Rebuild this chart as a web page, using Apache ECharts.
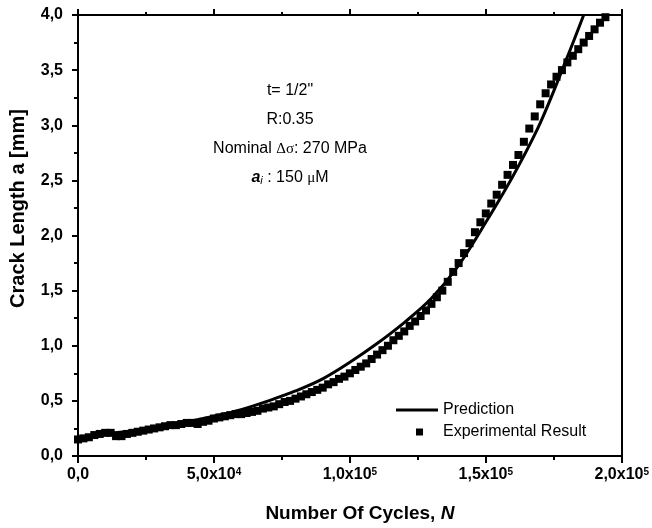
<!DOCTYPE html>
<html>
<head>
<meta charset="utf-8">
<script src="https://cdn.jsdelivr.net/npm/echarts@6/dist/echarts.min.js"></script>
<style>
  html, body { margin: 0; padding: 0; background: #fff; }
  #chart { width: 652px; height: 528px; }
</style>
</head>
<body>
<div id="chart"></div>
<script>
// cycles are in thousands (k), crack length in mm
var expCyclesK = [
  0, 2, 4, 6, 8, 10, 12, 14, 16, 18,
  20, 22, 24, 26, 28, 30, 32, 34, 36, 38,
  40, 42, 44, 46, 48, 50, 52, 54, 56, 58,
  60, 62, 64, 66, 68, 70, 72, 74, 76, 78,
  80, 82, 84, 86, 88, 90, 92, 94, 96, 98,
  100, 102, 104, 106, 108, 110, 112, 114, 116, 118,
  120, 122, 124, 126, 128, 130, 132, 134, 136, 138,
  140, 142, 144, 146, 148, 150, 152, 154, 156, 158,
  160, 162, 164, 166, 168, 170, 172, 174, 176, 178,
  180, 182, 184, 186, 188, 190, 192, 194
];
var expLength = [
  0.15, 0.16, 0.17, 0.19, 0.20, 0.21, 0.21, 0.18, 0.18, 0.20,
  0.21, 0.22, 0.23, 0.24, 0.25, 0.26, 0.27, 0.28, 0.28, 0.29,
  0.30, 0.30, 0.29, 0.31, 0.32, 0.34, 0.35, 0.36, 0.37, 0.38,
  0.38, 0.39, 0.40, 0.41, 0.43, 0.44, 0.45, 0.47, 0.49, 0.50,
  0.52, 0.54, 0.56, 0.58, 0.60, 0.62, 0.65, 0.67, 0.70, 0.72,
  0.75, 0.78, 0.81, 0.84, 0.88, 0.92, 0.96, 1.00, 1.05, 1.09,
  1.13, 1.18, 1.22, 1.27, 1.32, 1.38, 1.44, 1.50, 1.58, 1.67,
  1.75, 1.84, 1.93, 2.03, 2.12, 2.20, 2.29, 2.37, 2.46, 2.55,
  2.64, 2.73, 2.85, 2.97, 3.08, 3.19, 3.29, 3.37, 3.44, 3.50,
  3.57, 3.63, 3.69, 3.75, 3.81, 3.87, 3.93, 3.98
];
var predCyclesK = [0, 10, 20, 30, 40, 50, 60, 70, 80, 90, 100, 110, 120, 130, 140, 150, 160, 170, 180, 186];
var predLength = [0.17, 0.20, 0.23, 0.27, 0.31, 0.36, 0.42, 0.50, 0.59, 0.70, 0.85, 1.02, 1.21, 1.43, 1.73, 2.12, 2.54, 3.02, 3.62, 4.00];

var xTicks = [0, 50, 100, 150, 200];
var yTicks = [0, 0.5, 1, 1.5, 2, 2.5, 3, 3.5, 4];

var notes = [
  't= 1/2"',
  'R:0.35',
  'Nominal {sym|Δσ}: 270 MPa',
  '{it|a}{sub|i} : 150 {sym|μ}M'
];

(function(){
  var font = '"Liberation Sans", Arial, sans-serif';
  var black = '#000';

  function pairs(xs, ys){
    return xs.map(function(x, i){ return [x, ys[i]]; });
  }

  function xLabel(v){
    if (v === 0) return '0,0';
    var n = v * 1000;
    var p = Math.floor(Math.log10(n));
    var m = (n / Math.pow(10, p)).toFixed(1).replace('.', ',');
    return m + 'x10{sup|' + p + '}';
  }

  var lineStyle = { color: black, width: 2 };
  var baseX = {
    type: 'value', min: xTicks[0], max: xTicks[xTicks.length - 1], interval: 50,
    axisLine: { show: true, onZero: false, lineStyle: lineStyle },
    axisTick: { show: true, inside: false, length: 7, lineStyle: lineStyle },
    minorTick: { show: true, splitNumber: 2, length: 4, lineStyle: lineStyle },
    splitLine: { show: false }
  };
  var baseY = {
    type: 'value', min: yTicks[0], max: yTicks[yTicks.length - 1], interval: 0.5,
    axisLine: { show: true, onZero: false, lineStyle: lineStyle },
    axisTick: { show: true, inside: false, length: 6, lineStyle: lineStyle },
    minorTick: { show: true, splitNumber: 2, length: 4, lineStyle: lineStyle },
    splitLine: { show: false }
  };

  var myChart = echarts.init(document.getElementById('chart'));
  var option = {
    animation: false,
    backgroundColor: '#fff',
    grid: { left: 76, right: 28, top: 15, bottom: 68 },
    xAxis: [
      Object.assign({}, baseX, {
        position: 'bottom',
        name: 'Number Of Cycles, {i|N}',
        nameLocation: 'middle',
        nameGap: 48,
        nameTextStyle: {
          color: black, fontFamily: font, fontSize: 19, fontWeight: 'bold', padding: [0, 0, 0, 20],
          rich: { i: { fontFamily: font, fontSize: 19, fontWeight: 'bold', fontStyle: 'italic', color: black } }
        },
        axisLabel: {
          color: black, fontFamily: font, fontSize: 16, fontWeight: 'bold', margin: 11,
          formatter: xLabel,
          rich: { sup: { fontFamily: font, fontSize: 10, fontWeight: 'bold', color: black, verticalAlign: 'top', lineHeight: 10 } }
        }
      }),
      Object.assign({}, baseX, {
        position: 'top',
        axisLabel: { show: false },
        axisTick: { show: true, inside: false, length: 6, lineStyle: lineStyle },
        minorTick: { show: true, splitNumber: 2, length: 3, lineStyle: lineStyle }
      })
    ],
    yAxis: [
      Object.assign({}, baseY, {
        position: 'left',
        name: 'Crack Length a [mm]',
        nameLocation: 'middle',
        nameGap: 50,
        nameTextStyle: { color: black, fontFamily: font, fontSize: 20, fontWeight: 'bold', padding: [0, 0, 0, 54] },
        axisLabel: {
          color: black, fontFamily: font, fontSize: 16, fontWeight: 'bold', margin: 15,
          formatter: function(v){ return v.toFixed(1).replace('.', ','); }
        }
      }),
      Object.assign({}, baseY, {
        position: 'right',
        axisLabel: { show: false },
        axisTick: { show: false },
        minorTick: { show: false }
      })
    ],
    legend: [
      {
        data: [{ name: 'Prediction', icon: 'rect' }], left: 396, top: 402, itemWidth: 42, itemHeight: 3,
        selectedMode: false, padding: 0,
        textStyle: { color: black, fontFamily: font, fontSize: 16 }
      },
      {
        data: ['Experimental Result'], left: 416, top: 424, itemWidth: 7, itemHeight: 7,
        selectedMode: false, padding: 0,
        textStyle: { color: black, fontFamily: font, fontSize: 16, padding: [0, 0, 0, 15] }
      }
    ],
    graphic: notes.map(function(t, i){
      return {
        type: 'text', z: 10,
        x: 290, y: 91 + i * 29,
        style: {
          text: t, align: 'center', verticalAlign: 'middle',
          fill: black, font: '16px ' + font,
          rich: {
            sym: { fontFamily: '"Liberation Serif", serif', fontSize: 15, fill: black },
            it: { fontFamily: font, fontSize: 16, fontStyle: 'italic', fontWeight: 'bold', fill: black },
            sub: { fontFamily: font, fontSize: 11, fontStyle: 'italic', fill: black, verticalAlign: 'bottom', padding: [6, 0, 0, 0] }
          }
        }
      };
    }),
    series: [
      {
        name: 'Prediction', type: 'line', smooth: 0.35, symbol: 'none', showSymbol: false,
        data: pairs(predCyclesK, predLength),
        lineStyle: { color: black, width: 3 },
        itemStyle: { color: black },
        z: 3
      },
      {
        name: 'Experimental Result', type: 'scatter', symbol: 'rect', symbolSize: 8,
        data: pairs(expCyclesK, expLength),
        itemStyle: { color: black, opacity: 1 },
        z: 2
      }
    ]
  };
  myChart.setOption(option);
}());
</script>
</body>
</html>
